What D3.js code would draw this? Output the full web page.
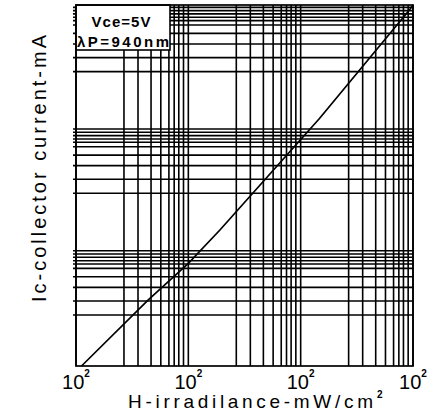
<!DOCTYPE html>
<html>
<head>
<meta charset="utf-8">
<script src="https://cdn.jsdelivr.net/npm/d3@7"></script>
<style>
  body { margin: 0; background: #fff; }
  text { font-family: "Liberation Sans", Arial, sans-serif; fill: #000; }
</style>
</head>
<body>
<svg id="chart" width="438" height="419"></svg>
<script>
// decades of the two log axes
var xDecades = [0.1, 1, 10, 100];
var yDecades = [0.01, 0.1, 1, 10];

// grid lines inside one decade, in decade units, as drafted on the sheet
var xGridFrac = [0.427, 0.552, 0.668, 0.755, 0.827, 0.874, 0.915, 0.957];
var yGridFrac = [0.472, 0.587, 0.699, 0.786, 0.855, 0.891, 0.918, 0.946, 0.973];

// tick labels (as printed)
var xTickBase = "10";
var xTickExp = ["2", "2", "2", "2"];

// curve: H (mW/cm2) vs Ic (mA)
var H  = [0.112, 0.44, 1.0, 1.91, 14.7, 94, 100];
var Ic = [0.0113, 0.0394, 0.0789, 0.148, 1.22, 9.64, 10.45];

var legendLines = ["Vce=5V", "\u03bbP=940nm"];

var plot = { left: 76, right: 413, top: 5, bottom: 366 };
var svg = d3.select("#chart");

var x = d3.scaleLog().domain([0.1, 100]).range([plot.left, plot.right]);
var y = d3.scaleLog().domain([0.0113, 10.45]).range([plot.bottom, plot.top]);

svg.append("rect").attr("width", 438).attr("height", 419).attr("fill", "#fff");

// build grid values from the decades
var xGrid = [], yGrid = [];
xDecades.forEach(function(d, i){
	xGrid.push(d);
	if ( i < xDecades.length - 1 )
		xGridFrac.forEach(function(f){ xGrid.push(d * Math.pow(10, f)); });
});
yDecades.forEach(function(d, i){
	yGrid.push(d);
	if ( i < yDecades.length - 1 )
		yGridFrac.forEach(function(f){ yGrid.push(d * Math.pow(10, f)); });
});
yGrid = yGrid.filter(function(v){ return y(v) >= plot.top && y(v) <= plot.bottom; });

var grid = svg.append("g").attr("stroke", "#000").attr("stroke-width", 1.6);
grid.selectAll("line.v").data(xGrid).enter().append("line")
	.attr("x1", function(d){ return x(d); }).attr("x2", function(d){ return x(d); })
	.attr("y1", plot.top).attr("y2", plot.bottom);
grid.selectAll("line.h").data(yGrid).enter().append("line")
	.attr("x1", plot.left - 3).attr("x2", plot.right)
	.attr("y1", function(d){ return y(d); }).attr("y2", function(d){ return y(d); });

// curve
var pts = H.map(function(h, i){ return [h, Ic[i]]; });
svg.append("path").datum(pts)
	.attr("fill", "none").attr("stroke", "#000").attr("stroke-width", 1.7)
	.attr("d", d3.line().x(function(d){ return x(d[0]); }).y(function(d){ return y(d[1]); }));

// legend box
var lg = svg.append("g");
lg.append("rect").attr("x", plot.left).attr("y", plot.top).attr("width", 94).attr("height", 45)
	.attr("fill", "#fff").attr("stroke", "#000").attr("stroke-width", 1.6);
lg.append("text").attr("x", 121).attr("y", 26.5).attr("text-anchor", "middle")
	.style("font-size", "15px").style("font-weight", "bold")
	.attr("textLength", 59).attr("lengthAdjust", "spacing")
	.text(legendLines[0]);
lg.append("text").attr("x", 123).attr("y", 46.5).attr("text-anchor", "middle")
	.style("font-size", "15px").style("font-weight", "bold")
	.attr("textLength", 92).attr("lengthAdjust", "spacing")
	.text(legendLines[1]);

// border
svg.append("rect").attr("x", plot.left).attr("y", plot.top)
	.attr("width", plot.right - plot.left).attr("height", plot.bottom - plot.top)
	.attr("fill", "none").attr("stroke", "#000").attr("stroke-width", 1.7);

// x tick labels
var tl = svg.selectAll("text.xtick").data(xDecades).enter().append("text")
	.attr("class", "xtick")
	.attr("x", function(d){ return x(d); }).attr("y", 389)
	.attr("text-anchor", "middle").style("font-size", "20px");
tl.append("tspan").text(xTickBase);
tl.append("tspan").attr("dy", -12).style("font-size", "10px").style("font-weight", "bold")
	.text(function(d, i){ return xTickExp[i]; });

// axis titles
var xt = svg.append("text").attr("x", 128).attr("y", 408).style("font-size", "19px");
xt.append("tspan").attr("textLength", 245).attr("lengthAdjust", "spacing").text("H-irradilance-mW/cm");
xt.append("tspan").attr("x", 377).attr("y", 398).style("font-size", "10px").style("font-weight", "bold").text("2");

svg.append("text")
	.attr("transform", "translate(46,168.5) rotate(-90)")
	.attr("text-anchor", "middle").style("font-size", "20px")
	.attr("textLength", 267).attr("lengthAdjust", "spacing")
	.text("Ic-collector current-mA");
</script>
</body>
</html>
